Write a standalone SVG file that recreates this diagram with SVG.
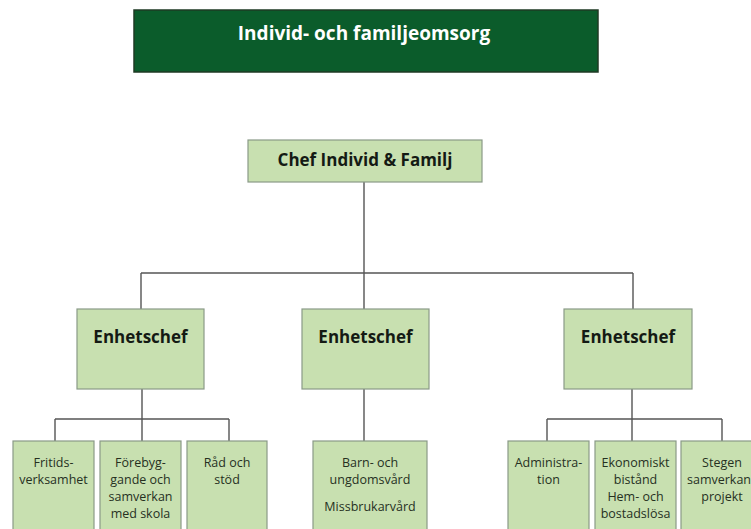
<svg xmlns="http://www.w3.org/2000/svg" width="751" height="529" viewBox="0 0 751 529">
<style>
.box{fill:#c8e0b0;stroke:#8a9a88;stroke-width:1.2}
.title{fill:#0b5c2b;stroke:#1f3a25;stroke-width:1.5}
.h{font-family:"Open Sans","Liberation Sans",sans-serif;font-weight:bold;text-anchor:middle;fill:#141a14}
.t{font-family:"Open Sans","Liberation Sans",sans-serif;font-size:12.5px;text-anchor:middle;fill:#26301f}
.c{fill:none;stroke:#555;stroke-width:1.4}
</style>
<rect width="751" height="529" fill="#fff"/>
<g id="connectors">
<path class="c" d="M364,182V273M141,273H633M141,273V309M364,273V309M633,273V309"/>
<path class="c" d="M142,389V419M55,419H229M55,419V441M142,419V441M229,419V441"/>
<path class="c" d="M364,389V441"/>
<path class="c" d="M632,389V419M547,419H722M547,419V441M632,419V441M722,419V441"/>
</g>
<g id="title">
<rect class="title" x="134" y="10" width="464" height="62"/>
<text x="364" y="40" class="h" style="fill:#fff;font-size:19px">Individ- och familjeomsorg</text>
</g>
<g id="chef">
<rect class="box" x="248" y="140" width="234" height="42"/>
<text x="365" y="166" class="h" style="font-size:17px">Chef Individ &amp; Familj</text>
</g>
<g id="enhet1">
<rect class="box" x="77" y="309" width="127" height="80"/>
<text x="140.5" y="343" class="h" style="font-size:17px">Enhetschef</text>
</g>
<g id="enhet2">
<rect class="box" x="302" y="309" width="127" height="80"/>
<text x="365.5" y="343" class="h" style="font-size:17px">Enhetschef</text>
</g>
<g id="enhet3">
<rect class="box" x="564" y="309" width="128" height="80"/>
<text x="628" y="343" class="h" style="font-size:17px">Enhetschef</text>
</g>
<g id="fritid">
<rect class="box" x="13" y="441" width="81" height="95"/>
<text class="t" x="53.5" y="467">Fritids-</text>
<text class="t" x="53.5" y="484">verksamhet</text>
</g>
<g id="forebyg">
<rect class="box" x="100" y="441" width="81" height="95"/>
<text class="t" x="140.5" y="467">Förebyg-</text>
<text class="t" x="140.5" y="484">gande och</text>
<text class="t" x="140.5" y="501">samverkan</text>
<text class="t" x="140.5" y="518">med skola</text>
</g>
<g id="rad">
<rect class="box" x="187" y="441" width="80" height="95"/>
<text class="t" x="227" y="467">Råd och</text>
<text class="t" x="227" y="484">stöd</text>
</g>
<g id="barn">
<rect class="box" x="313" y="441" width="114" height="95"/>
<text class="t" x="370" y="467">Barn- och</text>
<text class="t" x="370" y="484">ungdomsvård</text>
<text class="t" x="370" y="511">Missbrukarvård</text>
</g>
<g id="admin">
<rect class="box" x="508" y="441" width="81" height="95"/>
<text class="t" x="548.5" y="467">Administra-</text>
<text class="t" x="548.5" y="484">tion</text>
</g>
<g id="ekonomi">
<rect class="box" x="595" y="441" width="81" height="95"/>
<text class="t" x="635.5" y="467">Ekonomiskt</text>
<text class="t" x="635.5" y="484">bistånd</text>
<text class="t" x="635.5" y="501">Hem- och</text>
<text class="t" x="635.5" y="518">bostadslösa</text>
</g>
<g id="stegen">
<rect class="box" x="681" y="441" width="81" height="95"/>
<text class="t" x="722" y="467">Stegen</text>
<text class="t" x="722" y="484">samverkans</text>
<text class="t" x="722" y="501">projekt</text>
</g>
</svg>
